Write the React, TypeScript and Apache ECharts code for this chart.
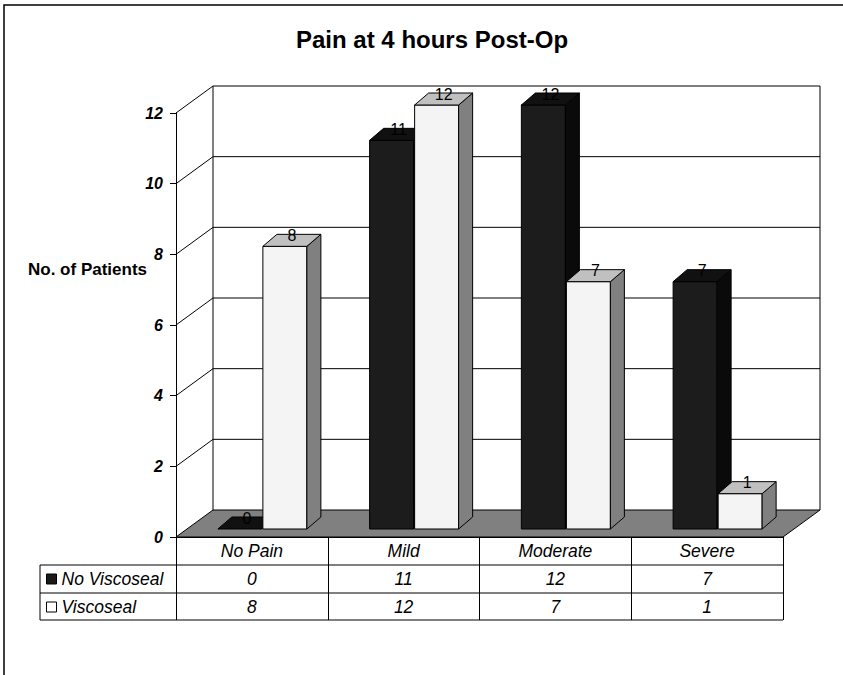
import React, { useEffect, useRef } from 'react';
import * as echarts from 'echarts';

const categories = ['No Pain', 'Mild', 'Moderate', 'Severe'];
const noViscoseal = [0, 11, 12, 7];
const viscoseal = [8, 12, 7, 1];
const yTicks = [0, 2, 4, 6, 8, 10, 12];
const seriesNames = ['No Viscoseal', 'Viscoseal'];

const FONT = '"Liberation Sans", Arial, Helvetica, sans-serif';

// 3D geometry (pixel offsets for depth)
const WALL_DX = 37;
const WALL_DY = 27;
const PLANE_DX = 11;
const PLANE_DY = 8;
const BAR_DX = 14;
const BAR_DY = 12;

type Faces = { front: string; top: string; side: string };

function makeBarRender(offsetFrac: number, faces: Faces) {
  return (params: any, api: any) => {
    const cat = api.value(0);
    const val = api.value(1);
    const base = api.coord([cat, 0]);
    const topPt = api.coord([cat, val]);
    const band = api.size([1, 0])[0];
    const w = band * 0.29;
    const x0 = base[0] + PLANE_DX + offsetFrac * band;
    const yb = base[1] - PLANE_DY;
    const yt = topPt[1] - PLANE_DY;
    const stroke = '#000';
    const children: any[] = [];
    if (yb - yt > 0.5) {
      children.push({
        type: 'rect',
        shape: { x: x0, y: yt, width: w, height: yb - yt },
        style: { fill: faces.front, stroke, lineWidth: 1 },
      });
      children.push({
        type: 'polygon',
        shape: {
          points: [
            [x0 + w, yt],
            [x0 + w + BAR_DX, yt - BAR_DY],
            [x0 + w + BAR_DX, yb - BAR_DY],
            [x0 + w, yb],
          ],
        },
        style: { fill: faces.side, stroke, lineWidth: 1 },
      });
    }
    children.push({
      type: 'polygon',
      shape: {
        points: [
          [x0, yt],
          [x0 + BAR_DX, yt - BAR_DY],
          [x0 + w + BAR_DX, yt - BAR_DY],
          [x0 + w, yt],
        ],
      },
      style: { fill: faces.top, stroke, lineWidth: 1 },
    });
    children.push({
      type: 'text',
      x: x0 + w / 2 + BAR_DX / 2,
      y: yt - 11,
      style: {
        text: String(val),
        fill: '#000',
        font: `16px ${FONT}`,
        align: 'center',
        verticalAlign: 'middle',
      },
    });
    return { type: 'group', children };
  };
}

function wallRender(params: any, api: any) {
  const cs = params.coordSys;
  const L = cs.x;
  const R = cs.x + cs.width;
  const v = api.value(1);
  const y = api.coord([0, v])[1];
  const lineStyle = { stroke: '#000', lineWidth: 1 };
  const children: any[] = [];
  if (v === yTicks[0]) {
    const yTop = api.coord([0, yTicks[yTicks.length - 1]])[1];
    children.push({
      type: 'polygon',
      shape: {
        points: [
          [L, y],
          [L + WALL_DX, y - WALL_DY],
          [R + WALL_DX, y - WALL_DY],
          [R, y],
        ],
      },
      style: { fill: '#808080', stroke: '#000', lineWidth: 1 },
    });
    children.push({
      type: 'line',
      shape: { x1: L + WALL_DX, y1: y - WALL_DY, x2: L + WALL_DX, y2: yTop - WALL_DY },
      style: lineStyle,
    });
    children.push({
      type: 'line',
      shape: { x1: R + WALL_DX, y1: y - WALL_DY, x2: R + WALL_DX, y2: yTop - WALL_DY },
      style: lineStyle,
    });
  } else {
    children.push({
      type: 'line',
      shape: { x1: L, y1: y, x2: L + WALL_DX, y2: y - WALL_DY },
      style: lineStyle,
    });
    children.push({
      type: 'line',
      shape: { x1: L + WALL_DX, y1: y - WALL_DY, x2: R + WALL_DX, y2: y - WALL_DY },
      style: lineStyle,
    });
  }
  return { type: 'group', children };
}

const tableLabelStyle = {
  fontFamily: FONT,
  fontSize: 17.5,
  fontStyle: 'italic' as const,
  color: '#000',
  margin: 5,
};

const legendText = { fontFamily: FONT, fontSize: 17.5, fontStyle: 'italic', color: '#000', lineHeight: 20 };

const option: any = {
  animation: false,
  backgroundColor: '#fff',
  title: [
    {
      text: 'Pain at 4 hours Post-Op',
      left: 291,
      top: 20,
      textStyle: { fontFamily: FONT, fontSize: 24, fontWeight: 'bold', color: '#000', lineHeight: 28 },
    },
    {
      text: 'No. of Patients',
      left: 23,
      top: 254,
      textStyle: { fontFamily: FONT, fontSize: 17, fontWeight: 'bold', color: '#000', lineHeight: 20 },
    },
  ],
  legend: [
    {
      data: [{ name: seriesNames[0], itemStyle: { color: '#1a1a1a', borderColor: '#000', borderWidth: 1 } }],
      left: 46,
      top: 569,
      padding: 0,
      icon: 'rect',
      itemWidth: 10,
      itemHeight: 10,
      selectedMode: false,
      textStyle: legendText,
    },
    {
      data: [{ name: seriesNames[1], itemStyle: { color: '#fff', borderColor: '#000', borderWidth: 1 } }],
      left: 46,
      top: 597,
      padding: 0,
      icon: 'rect',
      itemWidth: 10,
      itemHeight: 10,
      selectedMode: false,
      textStyle: legendText,
    },
  ],
  grid: { left: 176, right: 60, top: 113, bottom: 138 },
  xAxis: [
    {
      type: 'category',
      data: categories,
      position: 'bottom',
      axisLine: { show: true, lineStyle: { color: '#000', width: 1 } },
      axisTick: { show: true, length: 83, lineStyle: { color: '#000', width: 1 } },
      axisLabel: tableLabelStyle,
      splitLine: { show: false },
    },
    {
      type: 'category',
      data: noViscoseal.map(String),
      position: 'bottom',
      offset: 28,
      axisLine: { show: false },
      axisTick: { show: false },
      axisLabel: tableLabelStyle,
    },
    {
      type: 'category',
      data: viscoseal.map(String),
      position: 'bottom',
      offset: 56,
      axisLine: { show: false },
      axisTick: { show: false },
      axisLabel: tableLabelStyle,
    },
  ],
  yAxis: {
    type: 'value',
    min: 0,
    max: 12,
    interval: 2,
    axisLine: { show: true, lineStyle: { color: '#000', width: 1 } },
    axisTick: { show: true, length: 6, lineStyle: { color: '#000', width: 1 } },
    axisLabel: {
      fontFamily: FONT,
      fontSize: 16,
      fontWeight: 'bold',
      fontStyle: 'italic',
      color: '#000',
      margin: 13,
    },
    splitLine: { show: false },
  },
  graphic: [
    {
      type: 'rect',
      shape: { x: 4, y: 5, width: 900, height: 700 },
      style: { fill: 'none', stroke: '#000', lineWidth: 1.5 },
      silent: true,
    },
    { type: 'line', shape: { x1: 40, y1: 565, x2: 783, y2: 565 }, style: { stroke: '#000', lineWidth: 1 } },
    { type: 'line', shape: { x1: 40, y1: 593, x2: 783, y2: 593 }, style: { stroke: '#000', lineWidth: 1 } },
    { type: 'line', shape: { x1: 40, y1: 620, x2: 783, y2: 620 }, style: { stroke: '#000', lineWidth: 1 } },
    { type: 'line', shape: { x1: 40, y1: 565, x2: 40, y2: 620 }, style: { stroke: '#000', lineWidth: 1 } },
  ],
  series: [
    {
      name: 'wall',
      type: 'custom',
      silent: true,
      xAxisIndex: 0,
      yAxisIndex: 0,
      renderItem: wallRender,
      data: yTicks.map((v) => [0, v]),
      encode: { x: 0, y: 1 },
      clip: false,
    },
    {
      name: seriesNames[0],
      type: 'custom',
      xAxisIndex: 0,
      yAxisIndex: 0,
      itemStyle: { color: '#1a1a1a' },
      renderItem: makeBarRender(-0.2966, { front: '#1c1c1c', top: '#111111', side: '#0a0a0a' }),
      data: noViscoseal.map((v, i) => [i, v]),
      encode: { x: 0, y: 1 },
      clip: false,
    },
    {
      name: seriesNames[1],
      type: 'custom',
      xAxisIndex: 0,
      yAxisIndex: 0,
      itemStyle: { color: '#ffffff' },
      renderItem: makeBarRender(0, { front: '#f4f4f4', top: '#c0c0c0', side: '#808080' }),
      data: viscoseal.map((v, i) => [i, v]),
      encode: { x: 0, y: 1 },
      clip: false,
    },
  ],
};

export default function App() {
  const ref = useRef<HTMLDivElement>(null);
  useEffect(() => {
    const chart = echarts.init(ref.current as HTMLDivElement, null, { renderer: 'svg' });
    chart.setOption(option);
    return () => chart.dispose();
  }, []);
  return (
    <div
      ref={ref}
      style={{ position: 'fixed', left: 0, top: 0, width: 843, height: 675, background: '#fff' }}
    />
  );
}
